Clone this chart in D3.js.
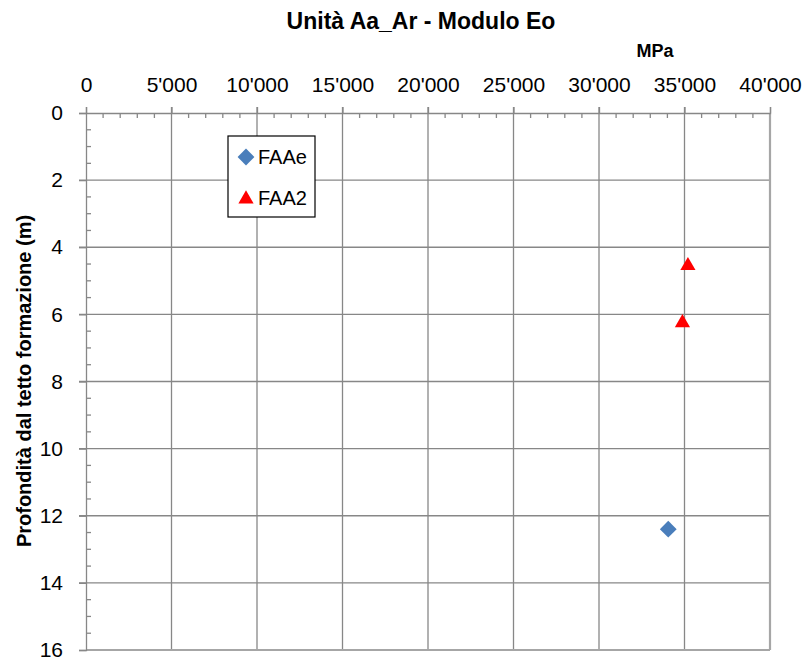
<!DOCTYPE html>
<html>
<head>
<meta charset="utf-8">
<script src="https://cdn.jsdelivr.net/npm/d3@7"></script>
<style>
  body { margin: 0; background: #fff; }
  text { font-family: "Liberation Sans", Arial, sans-serif; fill: #000; }
</style>
</head>
<body>
<script>
// chart data
var title = "Unità Aa_Ar - Modulo Eo";
var xUnit = "MPa";
var yLabel = "Profondità dal tetto formazione (m)";
var xTicks = [0, 5000, 10000, 15000, 20000, 25000, 30000, 35000, 40000];
var yTicks = [0, 2, 4, 6, 8, 10, 12, 14, 16];

var faaeModulo = [34050];
var faaeDepth = [12.4];
var faa2Modulo = [35200, 34880];
var faa2Depth = [4.55, 6.25];

var W = 806, H = 662;
var margin = {top: 113, right: 36, bottom: 12, left: 86},
    width = W - margin.left - margin.right,
    height = H - margin.top - margin.bottom;

var x = d3.scaleLinear().domain([0, 40000]).range([0, width]);
var y = d3.scaleLinear().domain([0, 16]).range([0, height]);

var fmt = function(d) { return d3.format(",")(d).replace(/,/g, "'"); };

var svg = d3.select("body").append("svg")
    .attr("width", W)
    .attr("height", H);

var g = svg.append("g")
    .attr("transform", "translate(" + margin.left + "," + margin.top + ")");

var gridCol = "#878787";

// gridlines
g.selectAll(".vgrid").data(xTicks.slice(1, -1)).enter().append("line")
    .attr("x1", function(d) { return x(d); }).attr("x2", function(d) { return x(d); })
    .attr("y1", -6).attr("y2", height)
    .attr("stroke", gridCol).attr("stroke-width", 1.3);
g.selectAll(".hgrid").data(yTicks.slice(1, -1)).enter().append("line")
    .attr("y1", function(d) { return y(d); }).attr("y2", function(d) { return y(d); })
    .attr("x1", -7).attr("x2", width)
    .attr("stroke", gridCol).attr("stroke-width", 1.3);

// plot border (right, bottom)
g.append("line").attr("x1", width).attr("x2", width).attr("y1", 0).attr("y2", height)
    .attr("stroke", "#a6a6a6").attr("stroke-width", 2.2);
g.append("line").attr("x1", 0).attr("x2", width).attr("y1", height).attr("y2", height)
    .attr("stroke", "#a6a6a6").attr("stroke-width", 2.2);

// top axis
var xAxis = d3.axisTop(x).tickValues(xTicks).tickFormat(fmt).tickSize(6).tickPadding(15);
var gx = g.append("g").call(xAxis);
gx.select(".domain").attr("stroke", gridCol).attr("stroke-width", 1.3);
gx.selectAll(".tick line").attr("stroke", gridCol).attr("stroke-width", 1.3);
gx.selectAll("text").style("font-size", "21px").attr("fill", "#000");

var xMinor = d3.range(1000, 40000, 1000).filter(function(d) { return d % 5000 !== 0; });
g.selectAll(".xminor").data(xMinor).enter().append("line")
    .attr("x1", function(d) { return x(d); }).attr("x2", function(d) { return x(d); })
    .attr("y1", 0).attr("y2", 5)
    .attr("stroke", gridCol).attr("stroke-width", 1.3);

// left axis
var yAxis = d3.axisLeft(y).tickValues(yTicks).tickSize(7).tickPadding(16);
var gy = g.append("g").call(yAxis);
gy.select(".domain").attr("stroke", gridCol).attr("stroke-width", 1.3);
gy.selectAll(".tick line").attr("stroke", gridCol).attr("stroke-width", 1.3);
gy.selectAll("text").style("font-size", "21px").attr("fill", "#000");

var yMinor = d3.range(0.5, 16, 0.5).filter(function(d) { return d % 2 !== 0; });
g.selectAll(".yminor").data(yMinor).enter().append("line")
    .attr("y1", function(d) { return y(d); }).attr("y2", function(d) { return y(d); })
    .attr("x1", 0).attr("x2", 5)
    .attr("stroke", gridCol).attr("stroke-width", 1.3);

// data points
var faae = faaeModulo.map(function(v, i) { return {x: v, y: faaeDepth[i]}; });
var faa2 = faa2Modulo.map(function(v, i) { return {x: v, y: faa2Depth[i]}; });

var diamond = d3.symbol().type(d3.symbolDiamond2).size(180);
var triangle = d3.symbol().type(d3.symbolTriangle).size(100);

g.selectAll(".faae").data(faae).enter().append("path")
    .attr("d", diamond)
    .attr("transform", function(d) { return "translate(" + x(d.x) + "," + y(d.y) + ")"; })
    .attr("fill", "#4a7ebb");

g.selectAll(".faa2").data(faa2).enter().append("path")
    .attr("d", triangle)
    .attr("transform", function(d) { return "translate(" + x(d.x) + "," + y(d.y) + ")"; })
    .attr("fill", "#ff0000");

// legend
var leg = svg.append("g").attr("transform", "translate(228,136)");
leg.append("rect").attr("width", 87).attr("height", 81)
    .attr("fill", "#fff").attr("stroke", "#000").attr("stroke-width", 1.2);
leg.append("path").attr("d", diamond)
    .attr("transform", "translate(18,21)")
    .attr("fill", "#4a7ebb");
leg.append("text").attr("x", 30).attr("y", 28).style("font-size", "20px").text("FAAe");
leg.append("path").attr("d", triangle)
    .attr("transform", "translate(18,63)")
    .attr("fill", "#ff0000");
leg.append("text").attr("x", 30).attr("y", 69).style("font-size", "20px").text("FAA2");

// titles
svg.append("text")
    .attr("x", 421).attr("y", 29)
    .attr("text-anchor", "middle")
    .style("font-size", "23px").style("font-weight", "bold")
    .text(title);

svg.append("text")
    .attr("x", 655).attr("y", 57)
    .attr("text-anchor", "middle")
    .style("font-size", "18px").style("font-weight", "bold")
    .text(xUnit);

svg.append("text")
    .attr("transform", "rotate(-90)")
    .attr("x", -381).attr("y", 31)
    .attr("text-anchor", "middle")
    .style("font-size", "20px").style("font-weight", "bold")
    .text(yLabel);
</script>
</body>
</html>
